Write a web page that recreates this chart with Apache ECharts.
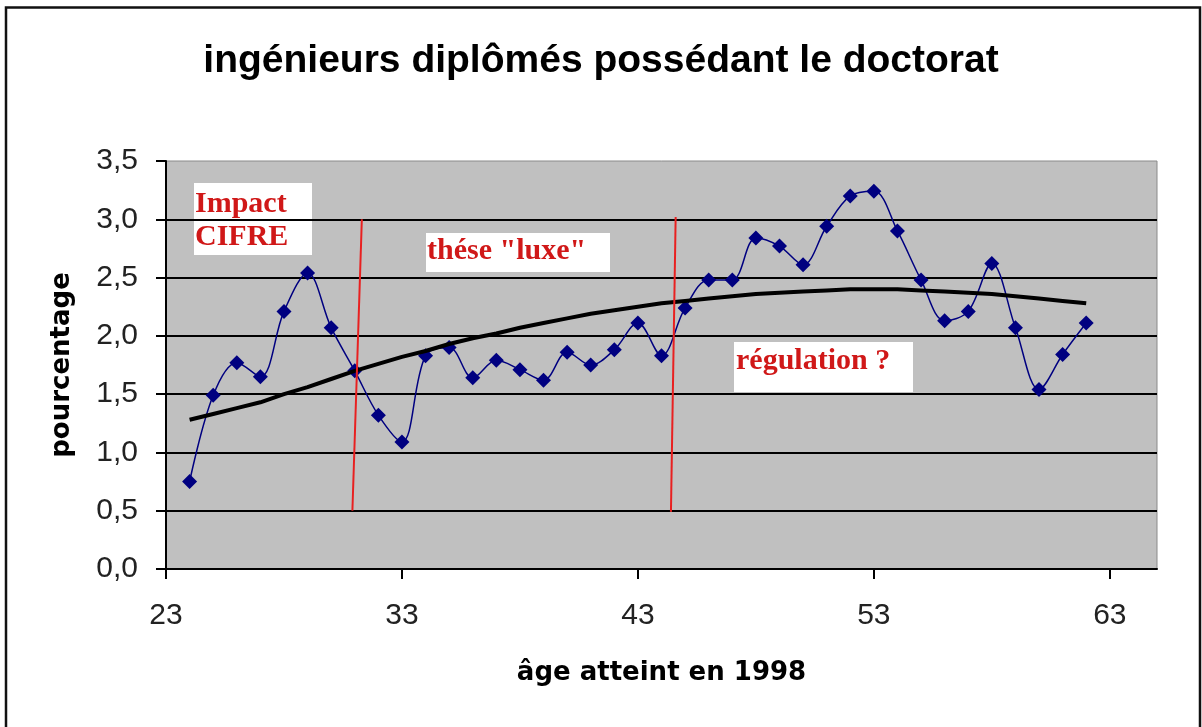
<!DOCTYPE html>
<html>
<head>
<meta charset="utf-8">
<script src="https://cdn.jsdelivr.net/npm/echarts@6/dist/echarts.min.js"></script>
<style>
  html, body { margin: 0; padding: 0; background: #fff; }
  #chart { width: 1202px; height: 727px; }
</style>
</head>
<body>
<div id="chart"></div>
<script>
// âge atteint en 1998
const ages = [24, 25, 26, 27, 28, 29, 30, 31, 32, 33, 34, 35, 36, 37, 38, 39, 40, 41, 42, 43,
  44, 45, 46, 47, 48, 49, 50, 51, 52, 53, 54, 55, 56, 57, 58, 59, 60, 61, 62]
// pourcentage de docteurs
const pct = [0.75, 1.49, 1.77, 1.65, 2.21, 2.54, 2.07, 1.70, 1.32, 1.09, 1.83, 1.90, 1.64, 1.79, 1.71, 1.62, 1.86, 1.75, 1.88, 2.11,
  1.83, 2.24, 2.48, 2.48, 2.84, 2.77, 2.61, 2.94, 3.20, 3.24, 2.90, 2.48, 2.13, 2.21, 2.62, 2.07, 1.54, 1.84, 2.11]
// courbe de tendance
const trend = [1.28, 1.33, 1.38, 1.43, 1.50, 1.56, 1.63, 1.70, 1.76, 1.82, 1.87, 1.93, 1.98, 2.02, 2.07, 2.11, 2.15, 2.19, 2.22, 2.25,
  2.28, 2.30, 2.32, 2.34, 2.36, 2.37, 2.38, 2.39, 2.40, 2.40, 2.40, 2.39, 2.38, 2.37, 2.36, 2.34, 2.32, 2.30, 2.28]
// séparations (rouge)
const sep1 = [[31.3, 3.0], [30.9, 0.5]]
const sep2 = [[44.6, 3.02], [44.4, 0.49]]
const xTicks = [23, 33, 43, 53, 63]

const chart = echarts.init(document.getElementById('chart'))

const boxText = {
  fill: '#d01818',
  fontFamily: '"Liberation Serif", "DejaVu Serif", serif',
  fontWeight: 'bold',
  fontSize: 30
}
const nameStyle = {
  fontFamily: '"DejaVu Sans", Verdana, sans-serif',
  fontWeight: 'bold',
  fontSize: 26,
  color: '#000'
}

chart.setOption({
  animation: false,
  backgroundColor: '#fff',
  title: {
    text: 'ingénieurs diplômés possédant le doctorat',
    left: 'center',
    top: 37,
    textStyle: {
      fontFamily: '"Liberation Sans", Arial, sans-serif',
      fontWeight: 'bold',
      fontSize: 39,
      color: '#000'
    }
  },
  grid: {
    left: 166,
    right: 45,
    top: 161,
    bottom: 158,
    show: true,
    backgroundColor: '#c0c0c0',
    borderColor: '#8a8a8a',
    borderWidth: 1
  },
  xAxis: {
    type: 'value',
    min: 23,
    max: 65,
    name: 'âge atteint en 1998',
    nameLocation: 'middle',
    nameGap: 91,
    nameTextStyle: nameStyle,
    axisLine: { show: true, onZero: false, lineStyle: { color: '#000', width: 2 } },
    axisTick: { show: true, inside: false, length: 10, customValues: xTicks, lineStyle: { color: '#000', width: 2 } },
    axisLabel: {
      customValues: xTicks,
      margin: 32,
      fontFamily: '"Liberation Sans", Arial, sans-serif',
      fontSize: 30,
      color: '#222'
    },
    splitLine: { show: false }
  },
  yAxis: {
    type: 'value',
    min: 0,
    max: 3.5,
    interval: 0.5,
    name: 'pourcentage',
    nameLocation: 'middle',
    nameGap: 91,
    nameTextStyle: nameStyle,
    axisLine: { show: true, lineStyle: { color: '#000', width: 2 } },
    axisTick: { show: true, inside: false, length: 10, lineStyle: { color: '#000', width: 2 } },
    axisLabel: {
      margin: 28,
      fontFamily: '"Liberation Sans", Arial, sans-serif',
      fontSize: 30,
      color: '#222',
      formatter: v => v.toFixed(1).replace('.', ',')
    },
    splitLine: { show: true, showMinLine: false, showMaxLine: false, lineStyle: { color: '#000', width: 2 } }
  },
  graphic: [
    {
      type: 'rect', z: 100,
      shape: { x: 6, y: 7.5, width: 1194, height: 740 },
      style: { fill: 'none', stroke: '#111', lineWidth: 2.5 }
    },
    {
      type: 'group', z: 100, left: 194, top: 183,
      children: [
        { type: 'rect', shape: { x: 0, y: 0, width: 118, height: 72 }, style: { fill: '#fff' } },
        { type: 'text', x: 1, y: 5, style: Object.assign({ text: 'Impact\nCIFRE', lineHeight: 33 }, boxText) }
      ]
    },
    {
      type: 'group', z: 100, left: 426, top: 233,
      children: [
        { type: 'rect', shape: { x: 0, y: 0, width: 184, height: 39 }, style: { fill: '#fff' } },
        { type: 'text', x: 1, y: 3, style: Object.assign({ text: 'thése "luxe"' }, boxText) }
      ]
    },
    {
      type: 'group', z: 100, left: 734, top: 342,
      children: [
        { type: 'rect', shape: { x: 0, y: 0, width: 179, height: 50 }, style: { fill: '#fff' } },
        { type: 'text', x: 2, y: 4, style: Object.assign({ text: 'régulation ?' }, boxText) }
      ]
    }
  ],
  series: [
    {
      name: 'pourcentage',
      type: 'line',
      data: ages.map((a, i) => [a, pct[i]]),
      smooth: 0.35,
      symbol: 'diamond',
      symbolSize: 15,
      itemStyle: { color: '#000080' },
      lineStyle: { color: '#000080', width: 1.5 },
      z: 3
    },
    {
      name: 'tendance',
      type: 'line',
      data: ages.map((a, i) => [a, trend[i]]),
      symbol: 'none',
      lineStyle: { color: '#000', width: 4 },
      z: 4
    },
    {
      type: 'line',
      data: sep1,
      symbol: 'none',
      lineStyle: { color: '#e82020', width: 2 },
      z: 5
    },
    {
      type: 'line',
      data: sep2,
      symbol: 'none',
      lineStyle: { color: '#e82020', width: 2 },
      z: 5
    }
  ]
})
</script>
</body>
</html>
